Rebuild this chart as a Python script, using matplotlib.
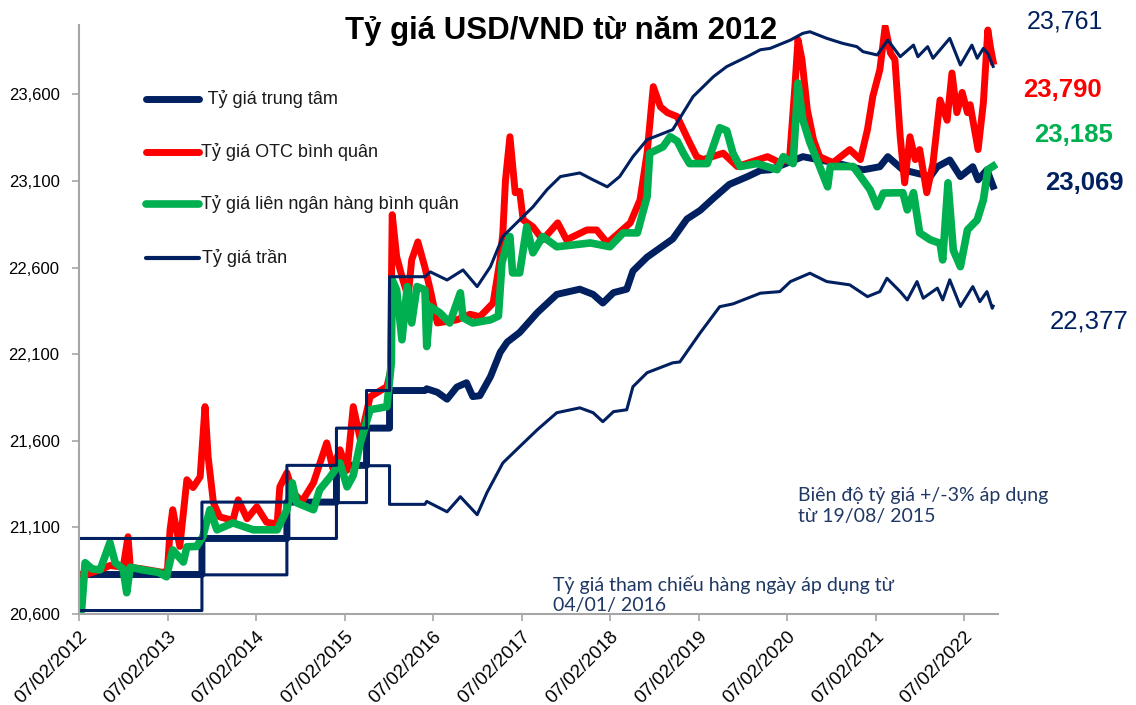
import matplotlib.pyplot as plt
from matplotlib.lines import Line2D
from matplotlib.ticker import FuncFormatter

W, H = 1136, 705
NAVY = '#002060'
RED = '#FF0000'
GREEN = '#00B050'

# time is in decimal years, 07/02 of each year sits at year + 0.101
central_x = [2012.10, 2013.49, 2013.49, 2014.45, 2014.45, 2015.01, 2015.01, 2015.35, 2015.35,
             2015.61, 2015.61, 2016.01, 2016.03, 2016.15, 2016.26, 2016.37, 2016.48, 2016.55,
             2016.63, 2016.75, 2016.86, 2016.94, 2017.08, 2017.28, 2017.50, 2017.76, 2017.91,
             2018.02, 2018.14, 2018.29, 2018.36, 2018.52, 2018.81, 2018.97, 2019.12, 2019.27,
             2019.45, 2019.65, 2019.80, 2019.91, 2020.28, 2020.47, 2020.67, 2020.96, 2021.15,
             2021.24, 2021.41, 2021.57, 2021.72, 2021.80, 2021.94, 2022.06, 2022.20, 2022.26,
             2022.36, 2022.43]
central_y = [20828, 20828, 21036, 21036, 21246, 21246, 21458, 21458, 21673,
             21673, 21890, 21890, 21900, 21880, 21840, 21910, 21935, 21855,
             21860, 21970, 22110, 22170, 22225, 22340, 22445, 22475, 22445,
             22395, 22455, 22475, 22580, 22660, 22765, 22880, 22930, 23000,
             23080, 23124, 23160, 23164, 23240, 23221, 23202, 23164, 23182,
             23240, 23164, 23144, 23125, 23182, 23221, 23125, 23182, 23106,
             23164, 23069]

otc_x = [2012.10, 2012.13, 2012.34, 2012.45, 2012.60, 2012.655, 2012.68, 2012.82, 2013.05,
         2013.10, 2013.13, 2013.16, 2013.24, 2013.32, 2013.39, 2013.47, 2013.525, 2013.56,
         2013.62, 2013.69, 2013.84, 2013.90, 2014.00, 2014.11, 2014.22, 2014.34, 2014.37,
         2014.45, 2014.52, 2014.62, 2014.75, 2014.90, 2014.97, 2015.05, 2015.13, 2015.20,
         2015.28, 2015.39, 2015.58, 2015.62, 2015.64, 2015.69, 2015.76, 2015.82, 2015.86,
         2015.93, 2016.01, 2016.07, 2016.15, 2016.37, 2016.52, 2016.63, 2016.78, 2016.86,
         2016.89, 2016.92, 2016.97, 2017.03, 2017.08, 2017.12, 2017.23, 2017.34, 2017.51,
         2017.61, 2017.84, 2017.95, 2018.07, 2018.18, 2018.33, 2018.44, 2018.52, 2018.59,
         2018.67, 2018.75, 2018.86, 2018.93, 2019.00, 2019.08, 2019.15, 2019.38, 2019.54,
         2019.88, 2020.02, 2020.13, 2020.19, 2020.225, 2020.27, 2020.33, 2020.40, 2020.47,
         2020.62, 2020.81, 2020.93, 2021.01, 2021.07, 2021.15, 2021.21, 2021.27, 2021.32,
         2021.38, 2021.43, 2021.49, 2021.55, 2021.60, 2021.68, 2021.75, 2021.83, 2021.91,
         2021.965, 2022.02, 2022.08, 2022.14, 2022.17, 2022.26, 2022.32, 2022.37, 2022.40,
         2022.43]
otc_y = [20830, 20820, 20855, 20880, 20870, 21046, 20870, 20860, 20840,
         20850, 21086, 21202, 20990, 21375, 21330, 21392, 21797, 21508,
         21242, 21161, 21140, 21259, 21150, 21219, 21130, 21120, 21334,
         21415, 21300, 21250, 21357, 21588, 21440, 21548, 21430, 21797,
         21606, 21854, 21912, 22000, 22905, 22663, 22529, 22431, 22644,
         22748, 22600, 22471, 22280, 22298, 22330, 22316, 22395, 22650,
         22799, 23105, 23355, 23032, 23040, 22875, 22835, 22760, 22858,
         22760, 22817, 22817, 22742, 22790, 22858, 22990, 23260, 23644,
         23528, 23494, 23471, 23396, 23321, 23240, 23223, 23260, 23183,
         23240, 23205, 23230, 23644, 23915, 23800, 23512, 23338, 23240,
         23205, 23281, 23223, 23396, 23587, 23742, 23990, 23838, 23800,
         23355, 23089, 23355, 23223, 23281, 23032, 23200, 23567, 23450,
         23723, 23494, 23611, 23494, 23540, 23281, 23553, 23971, 23870,
         23790]

ib_x = [2012.10, 2012.13, 2012.17, 2012.25, 2012.34, 2012.45, 2012.51, 2012.60, 2012.64,
        2012.68, 2012.82, 2013.00, 2013.09, 2013.16, 2013.28, 2013.32, 2013.43, 2013.50,
        2013.58, 2013.66, 2013.84, 2014.07, 2014.34, 2014.45, 2014.51, 2014.56, 2014.75,
        2014.82, 2014.94, 2015.05, 2015.13, 2015.20, 2015.28, 2015.39, 2015.58, 2015.63,
        2015.64, 2015.69, 2015.75, 2015.81, 2015.86, 2015.92, 2016.01, 2016.03, 2016.07,
        2016.18, 2016.29, 2016.41, 2016.44, 2016.55, 2016.75, 2016.84, 2016.88, 2016.94,
        2016.97, 2017.00, 2017.08, 2017.16, 2017.23, 2017.34, 2017.50, 2017.88, 2018.10,
        2018.25, 2018.41, 2018.52, 2018.55, 2018.70, 2018.78, 2018.86, 2018.93, 2019.00,
        2019.20, 2019.34, 2019.42, 2019.49, 2019.57, 2019.76, 2019.99, 2020.06, 2020.17,
        2020.225, 2020.28, 2020.36, 2020.47, 2020.56, 2020.59, 2020.85, 2021.04, 2021.12,
        2021.19, 2021.41, 2021.46, 2021.53, 2021.60, 2021.72, 2021.83, 2021.86, 2021.92,
        2021.98, 2022.06, 2022.14, 2022.25, 2022.32, 2022.37, 2022.43]
ib_y = [20620, 20620, 20896, 20860, 20855, 21012, 20896, 20860, 20723,
        20870, 20855, 20840, 20815, 20970, 20900, 20988, 20990, 21046,
        21202, 21086, 21126, 21086, 21086, 21202, 21357, 21242, 21202,
        21317, 21392, 21472, 21334, 21400, 21588, 21779, 21797, 22050,
        22529, 22471, 22183, 22490, 22280, 22490, 22471, 22144, 22375,
        22338, 22280, 22454, 22310, 22280, 22298, 22320, 22627, 22742,
        22779, 22569, 22569, 22835, 22685, 22779, 22720, 22742, 22720,
        22800, 22800, 23009, 23260, 23297, 23355, 23330, 23260, 23200,
        23200, 23407, 23390, 23260, 23183, 23200, 23165, 23240, 23200,
        23665, 23452, 23321, 23183, 23066, 23183, 23183, 23049, 22951,
        23030, 23032, 22933, 23032, 22800, 22760, 22740, 22644, 23089,
        22700, 22605, 22817, 22875, 22990, 23165, 23185]

ceil_x = [2012.10, 2013.49, 2013.49, 2014.45, 2014.45, 2015.01, 2015.01, 2015.35, 2015.35,
          2015.61, 2015.61, 2016.01, 2016.07, 2016.26, 2016.44, 2016.60, 2016.75, 2016.89,
          2017.08, 2017.23, 2017.39, 2017.54, 2017.76, 2017.91, 2018.07, 2018.21, 2018.36,
          2018.52, 2018.81, 2019.04, 2019.27, 2019.42, 2019.65, 2019.80, 2019.91, 2020.14,
          2020.28, 2020.36, 2020.55, 2020.73, 2020.89, 2020.96, 2021.12, 2021.24, 2021.38,
          2021.53, 2021.58, 2021.69, 2021.75, 2021.94, 2022.06, 2022.19, 2022.25, 2022.32,
          2022.37, 2022.43]
ceil_y = [21036, 21036, 21246, 21246, 21458, 21458, 21673, 21673, 21890,
          21890, 22547, 22547, 22575, 22528, 22586, 22490, 22605, 22779,
          22875, 22950, 23050, 23125, 23146, 23106, 23066, 23125, 23240,
          23338, 23396, 23587, 23702, 23760, 23817, 23857, 23865, 23913,
          23952, 23961, 23923, 23894, 23875, 23846, 23827, 23913, 23817,
          23884, 23817, 23875, 23808, 23923, 23769, 23884, 23808, 23865,
          23836, 23761]

floor_x = [2012.10, 2013.49, 2013.49, 2014.45, 2014.45, 2015.01, 2015.01, 2015.35, 2015.35,
           2015.61, 2015.61, 2016.01, 2016.03, 2016.26, 2016.41, 2016.60, 2016.71, 2016.89,
           2017.08, 2017.28, 2017.50, 2017.76, 2017.91, 2018.02, 2018.14, 2018.29, 2018.36,
           2018.52, 2018.81, 2018.89, 2019.12, 2019.34, 2019.49, 2019.80, 2020.02, 2020.14,
           2020.36, 2020.55, 2020.81, 2021.01, 2021.15, 2021.23, 2021.38, 2021.46, 2021.57,
           2021.64, 2021.80, 2021.86, 2021.94, 2022.06, 2022.20, 2022.28, 2022.36, 2022.42,
           2022.43]
floor_y = [20620, 20620, 20826, 20826, 21036, 21036, 21243, 21243, 21456,
           21456, 21233, 21233, 21250, 21190, 21277, 21173, 21300, 21472,
           21566, 21664, 21762, 21790, 21762, 21710, 21768, 21779, 21912,
           21993, 22050, 22055, 22223, 22374, 22390, 22452, 22461, 22519,
           22567, 22519, 22500, 22432, 22461, 22538, 22461, 22413, 22519,
           22423, 22481, 22413, 22529, 22375, 22490, 22403, 22461, 22365,
           22377]

legend_labels = [' Tỷ giá trung tâm', 'Tỷ giá OTC bình quân',
                 'Tỷ giá liên ngân hàng bình quân', 'Tỷ giá trần']
last_values = ['23,761', '23,790', '23,185', '23,069', '22,377']
tick_years = list(range(2012, 2023))


def fx(px):
    return px / W


def fy(py):
    return 1 - py / H


plt.rcParams['font.family'] = ['Liberation Sans', 'DejaVu Sans']

fig = plt.figure(figsize=(W / 100, H / 100), dpi=100)
ax = fig.add_axes([fx(79), fy(614), fx(998) - fx(79), fy(25) - fy(614)])

ax.plot(central_x, central_y, color=NAVY, lw=5, solid_joinstyle='round')
ax.plot(otc_x, otc_y, color=RED, lw=5, solid_joinstyle='round')
ax.plot(ib_x, ib_y, color=GREEN, lw=5.5, solid_joinstyle='round')
ax.plot(ceil_x, ceil_y, color=NAVY, lw=2.2)
ax.plot(floor_x, floor_y, color=NAVY, lw=2.2)

ax.set_xlim(2012.101, 2022.485)
ax.set_ylim(20600, 24000)
ax.set_yticks(range(20600, 23601, 500))
ax.yaxis.set_major_formatter(FuncFormatter(lambda v, p: '{:,.0f}'.format(v)))
ax.set_xticks([y + 0.101 for y in tick_years])
ax.set_xticklabels(['07/02/%d' % y for y in tick_years], rotation=45,
                   ha='right', rotation_mode='anchor')
ax.tick_params(axis='both', length=5, width=1.2, color='#A6A6A6')
ax.tick_params(axis='y', pad=9, labelsize=12)
ax.tick_params(axis='x', pad=5, labelsize=13.5)
for s in ['top', 'right']:
    ax.spines[s].set_visible(False)
for s in ['left', 'bottom']:
    ax.spines[s].set_color('#A6A6A6')
    ax.spines[s].set_linewidth(1.5)

# legend drawn by hand at the spots used in the original
leg_y = [99, 152, 204, 258]
leg_c = [NAVY, RED, GREEN, NAVY]
leg_w = [5, 5, 5.5, 3]
leg_tx = [203, 201, 201, 202]
for lab, y, c, w, tx in zip(legend_labels, leg_y, leg_c, leg_w, leg_tx):
    fig.add_artist(Line2D([fx(146), fx(199)], [fy(y), fy(y)], color=c, lw=w,
                          solid_capstyle='round'))
    fig.text(fx(tx), fy(y), lab, fontsize=13, va='center', ha='left', color='#1a1a1a')

fig.text(fx(561), fy(31), 'Tỷ giá USD/VND từ năm 2012', fontsize=22.5, fontweight='bold',
         ha='center', va='center')

fig.text(fx(1027), fy(22), last_values[0], fontsize=18, color=NAVY, va='center')
fig.text(fx(1023), fy(90), last_values[1], fontsize=18.5, color=RED, fontweight='bold', va='center')
fig.text(fx(1034), fy(135), last_values[2], fontsize=18.5, color=GREEN, fontweight='bold', va='center')
fig.text(fx(1045), fy(183), last_values[3], fontsize=18.5, color=NAVY, fontweight='bold', va='center')
fig.text(fx(1050), fy(322), last_values[4], fontsize=18.5, color=NAVY, va='center')

fig.text(fx(798), fy(506), 'Biên độ tỷ giá +/-3% áp dụng\ntừ 19/08/ 2015', fontsize=14,
         color='#203864', family=['Lato', 'DejaVu Sans'], va='center', linespacing=1.25)
fig.text(fx(553), fy(595), 'Tỷ giá tham chiếu hàng ngày áp dụng từ\n04/01/ 2016', fontsize=14,
         color='#203864', family=['Lato', 'DejaVu Sans'], va='center', linespacing=1.25)

fig.savefig('out.png', dpi=100)
